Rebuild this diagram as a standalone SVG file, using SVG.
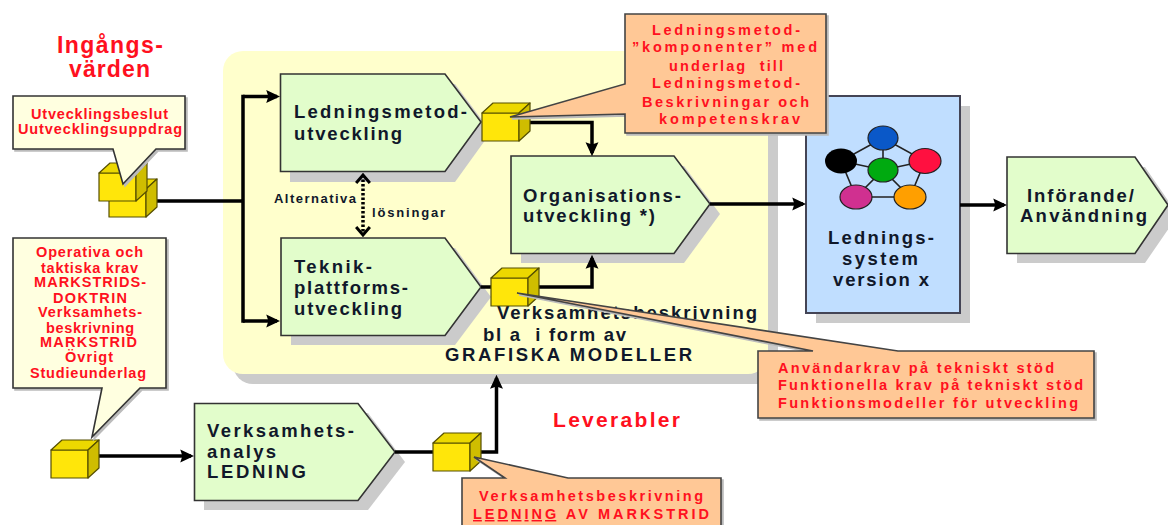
<svg xmlns="http://www.w3.org/2000/svg" xmlns:xlink="http://www.w3.org/1999/xlink" width="1168" height="525" viewBox="0 0 1168 525">
<style>
text{font-family:"Liberation Sans",Arial,sans-serif;white-space:pre}
.n{font-size:18.5px;font-weight:bold;fill:#10182a}
.r{font-size:14.5px;font-weight:bold;fill:#ff1020}
.rb{font-weight:bold;fill:#ff1020}
.s{font-size:13px;font-weight:bold;fill:#10182a}
.box{fill:#e2fdcb;stroke:#333;stroke-width:1.6;stroke-linejoin:miter}
.sh{fill:#cbcbcb}
.cy{fill:#ffffe0;stroke:#333;stroke-width:1.6;filter:drop-shadow(2px 2px 0 #bbb)}
.co{fill:#ffc896;stroke:#444;stroke-width:1.6;filter:drop-shadow(2px 2px 0 #bbb)}
.c{fill:none;stroke:#000;stroke-width:3.5}
.f{fill:#ffe60a;stroke:#554e00;stroke-width:1.2;stroke-linejoin:round}
.t{fill:#ecd800;stroke:#554e00;stroke-width:1.2;stroke-linejoin:round}
.d{fill:#cfbd00;stroke:#554e00;stroke-width:1.2;stroke-linejoin:round}
.nw{fill:none;stroke:#222;stroke-width:1.6}
</style>
<defs>
<marker id="ah" markerUnits="userSpaceOnUse" markerWidth="14" markerHeight="14" viewBox="0 0 13 12" refX="10" refY="6" orient="auto"><path d="M0,0L13,6L0,12L2,6Z" fill="#000"/></marker>
<marker id="dh" markerUnits="userSpaceOnUse" markerWidth="16" markerHeight="16" viewBox="0 0 14 14" refX="12" refY="7" orient="auto-start-reverse"><path d="M5,1L12,7L5,13" fill="none" stroke="#000" stroke-width="2.6"/></marker>
<g id="cube"><rect class="f" x="0" y="10" width="37" height="28"/><path class="t" d="M0,10L11,0H48L37,10Z"/><path class="d" d="M37,10L48,0V28L37,38Z"/></g>
</defs>
<rect width="1168" height="525" fill="#fff"/>
<g id="panel"><rect class="sh" x="233" y="61" width="545" height="323" rx="20"/><rect x="223" y="51" width="545" height="323" rx="20" fill="#ffffcc"/></g>
<g id="ledningsmetod"><path class="sh" d="M290,84H455L491,132L455,182H290Z"/><path class="box" d="M280.500,74H445L481,122L445,171.500H280.500Z"/>
<text class="n" x="294" y="118" textLength="173" lengthAdjust="spacing">Ledningsmetod-</text><text class="n" x="294" y="140" textLength="108" lengthAdjust="spacing">utveckling</text></g>
<g id="teknik"><path class="sh" d="M291,248H455L491,297L455,345H291Z"/><path class="box" d="M281,238H445L481,287L445,335.500H281Z"/>
<text class="n" x="294" y="273" textLength="78" lengthAdjust="spacing">Teknik-</text><text class="n" x="294" y="294" textLength="114" lengthAdjust="spacing">plattforms-</text><text class="n" x="294" y="315" textLength="108" lengthAdjust="spacing">utveckling</text></g>
<g id="organisation"><path class="sh" d="M521,166H684L720,214L684,263H521Z"/><path class="box" d="M511,156H674L710,204L674,253.500H511Z"/>
<text class="n" x="523" y="202" textLength="158" lengthAdjust="spacing">Organisations-</text><text class="n" x="523" y="222" textLength="132" lengthAdjust="spacing">utveckling *)</text></g>
<g id="alt"><text class="s" x="274" y="203" textLength="82" lengthAdjust="spacing">Alternativa</text><text class="s" x="372" y="217" textLength="73" lengthAdjust="spacing">lösningar</text></g>
<g id="verksamhetsbeskrivning"><text class="n" x="497" y="319" textLength="260" lengthAdjust="spacing">Verksamhetsbeskrivning</text><text class="n" x="483" y="341" textLength="143" lengthAdjust="spacing">bl a  i form av</text><text class="n" x="445" y="361" textLength="247" lengthAdjust="spacing">GRAFISKA MODELLER</text></g>
<g id="system"><rect class="sh" x="816" y="106" width="154" height="217"/><rect x="806" y="96" width="154" height="217" fill="#c0deff" stroke="#445" stroke-width="2"/>
<path class="nw" d="M883,138L925,161L910,197H856L841,161ZM883,138V170M841,161L883,170L925,161M856,197L883,170L910,197"/>
<ellipse cx="883" cy="138" rx="15" ry="12" fill="#0a58c8" stroke="#222" stroke-width="1.200"/>
<ellipse cx="841" cy="161" rx="16" ry="12.500" fill="#000"/>
<ellipse cx="925" cy="161" rx="16" ry="12.500" fill="#ff1040" stroke="#222" stroke-width="1.200"/>
<ellipse cx="883" cy="170" rx="15" ry="12" fill="#00aa10" stroke="#222" stroke-width="1.200"/>
<ellipse cx="856" cy="197" rx="16" ry="12" fill="#d03090" stroke="#222" stroke-width="1.200"/>
<ellipse cx="910" cy="197" rx="16" ry="12" fill="#ff9f00" stroke="#222" stroke-width="1.200"/>
<text class="n" x="828" y="244" textLength="106" lengthAdjust="spacing">Lednings-</text><text class="n" x="842" y="265" textLength="76" lengthAdjust="spacing">system</text><text class="n" x="833" y="286" textLength="96" lengthAdjust="spacing">version x</text></g>
<g id="inforande"><path class="sh" d="M1017,167H1145L1178,215L1145,263H1017Z"/><path class="box" d="M1007,157H1135L1168,205L1135,253.500H1007Z"/>
<text class="n" x="1027" y="202" textLength="107" lengthAdjust="spacing">Införande/</text><text class="n" x="1020" y="222" textLength="127" lengthAdjust="spacing">Användning</text></g>
<g id="analys"><path class="sh" d="M204,413H368L405,462L368,510H204Z"/><path class="box" d="M194.500,403.500H358L395,452L358,500.500H194.500Z"/>
<text class="n" x="207" y="437" textLength="147" lengthAdjust="spacing">Verksamhets-</text><text class="n" x="207" y="458" textLength="69" lengthAdjust="spacing">analys</text><text class="n" x="207" y="478" textLength="99" lengthAdjust="spacing">LEDNING</text></g>
<g id="connectors">
<path class="c" d="M157,201H243M243,94.750V322.750" />
<path class="c" marker-end="url(#ah)" d="M243,96.500H277"/>
<path class="c" marker-end="url(#ah)" d="M243,321H277"/>
<path d="M363,175V235" fill="none" stroke="#000" stroke-width="3.500" stroke-dasharray="2.500 2" marker-start="url(#dh)" marker-end="url(#dh)"/>
<path class="c" marker-end="url(#ah)" d="M529,122.500H592V153"/>
<path class="c" d="M481,287H491"/>
<path class="c" marker-end="url(#ah)" d="M539,287H592V258"/>
<path class="c" marker-end="url(#ah)" d="M710,204H803"/>
<path class="c" marker-end="url(#ah)" d="M960,205H1004"/>
<path class="c" marker-end="url(#ah)" d="M99,456H191"/>
<path class="c" d="M395,452H433"/>
<path class="c" marker-end="url(#ah)" d="M481,452H496.500V378"/>
</g>
<g id="cubes-in"><use href="#cube" xlink:href="#cube" x="109" y="179"/><use href="#cube" xlink:href="#cube" x="99" y="163"/></g>
<g id="cube-op"><use href="#cube" xlink:href="#cube" x="51" y="440"/></g>
<g id="cube-lm"><use href="#cube" xlink:href="#cube" x="482" y="103"/></g>
<g id="cube-tp"><use href="#cube" xlink:href="#cube" x="491" y="268"/></g>
<g id="cube-va"><use href="#cube" xlink:href="#cube" x="433" y="433"/></g>
<g id="rubrik"><text class="rb" x="57" y="53" font-size="23" textLength="106" lengthAdjust="spacing">Ingångs-</text><text class="rb" x="69" y="77" font-size="23" textLength="81" lengthAdjust="spacing">värden</text><text class="rb" x="553" y="427" font-size="21" textLength="127" lengthAdjust="spacing">Leverabler</text></g>
<g id="callout-beslut"><path class="cy" d="M13,96H185V149H156L123,184L113,149H13Z"/>
<text class="r" x="31" y="119" textLength="137" lengthAdjust="spacing">Utvecklingsbeslut</text><text class="r" x="18" y="134" textLength="164" lengthAdjust="spacing">Uutvecklingsuppdrag</text></g>
<g id="callout-krav"><path class="cy" d="M13,238H166V388H140L92,437L102,388H13Z"/>
<text class="r" x="36" y="257" textLength="107" lengthAdjust="spacing">Operativa och</text><text class="r" x="41" y="273" textLength="97" lengthAdjust="spacing">taktiska krav</text><text class="r" x="34" y="287" textLength="112" lengthAdjust="spacing">MARKSTRIDS-</text><text class="r" x="53" y="303" textLength="74" lengthAdjust="spacing">DOKTRIN</text><text class="r" x="38" y="317" textLength="104" lengthAdjust="spacing">Verksamhets-</text><text class="r" x="46" y="333" textLength="88" lengthAdjust="spacing">beskrivning</text><text class="r" x="40" y="347" textLength="97" lengthAdjust="spacing">MARKSTRID</text><text class="r" x="65" y="362" textLength="48" lengthAdjust="spacing">Övrigt</text><text class="r" x="30" y="378" textLength="116" lengthAdjust="spacing">Studieunderlag</text></g>
<g id="callout-metod"><path class="co" d="M625,14H826V133H625V114L510,117L625,84Z"/>
<text class="r" x="652" y="35" textLength="148" lengthAdjust="spacing">Ledningsmetod-</text><text class="r" x="632" y="52" textLength="185" lengthAdjust="spacing">”komponenter” med</text><text class="r" x="669" y="71" textLength="114" lengthAdjust="spacing">underlag  till</text><text class="r" x="652" y="88" textLength="148" lengthAdjust="spacing">Ledningsmetod-</text><text class="r" x="642" y="107" textLength="167" lengthAdjust="spacing">Beskrivningar och</text><text class="r" x="659" y="124" textLength="141" lengthAdjust="spacing">kompetenskrav</text></g>
<g id="callout-anv"><path class="co" d="M758,351H813L517,293L898,351H1094V418H758Z"/>
<text class="r" x="778" y="373" textLength="276" lengthAdjust="spacing">Användarkrav på tekniskt stöd</text><text class="r" x="778" y="390" textLength="305" lengthAdjust="spacing">Funktionella krav på tekniskt stöd</text><text class="r" x="778" y="408" textLength="300" lengthAdjust="spacing">Funktionsmodeller för utveckling</text></g>
<g id="callout-va"><path class="co" d="M462,478H505L474,457L568,478H721V530H462Z"/>
<text class="r" x="479" y="501" textLength="224" lengthAdjust="spacing">Verksamhetsbeskrivning</text><text class="r" x="473" y="519" textLength="236" lengthAdjust="spacing"><tspan text-decoration="underline">LEDNING</tspan> AV MARKSTRID</text></g>
</svg>
